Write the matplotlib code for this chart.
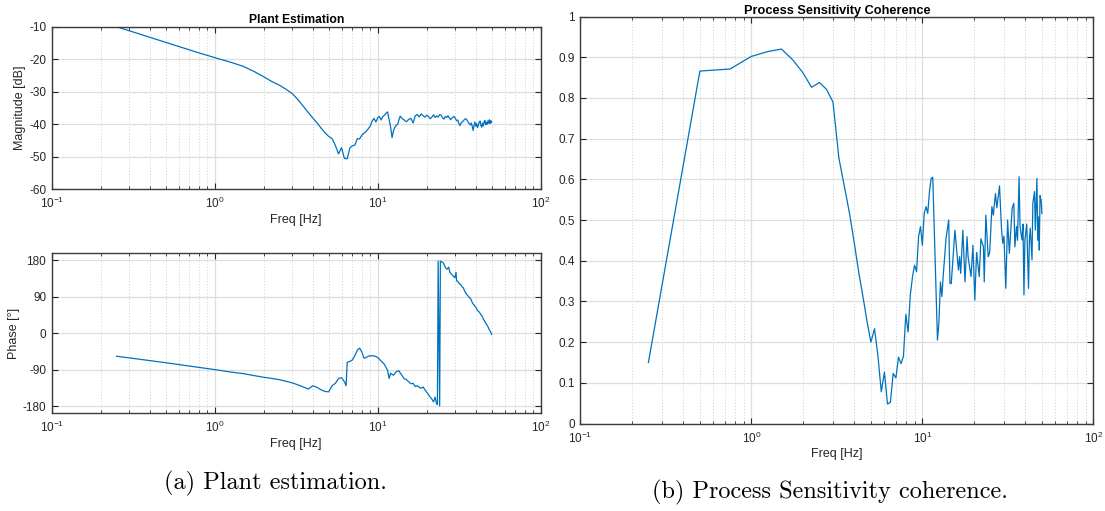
import numpy as np
import matplotlib.pyplot as plt

plt.rcParams['font.family'] = ['Liberation Sans', 'DejaVu Sans']

# ---- data ----
mag_freq = [0.25, 0.5, 0.75, 1.0, 1.25, 1.5, 1.75, 2.0, 2.25, 2.5, 2.75, 3.0,
            3.25, 3.5, 3.75, 4.0, 4.25, 4.5, 4.75, 5.0, 5.25, 5.5, 5.75, 6.0,
            6.25, 6.5, 6.75, 7.0, 7.25, 7.5, 7.75, 8.0, 8.25, 8.5, 8.75, 9.0,
            9.25, 9.5, 9.75, 10.0, 10.25, 10.5, 10.75, 11.0, 11.25, 11.5, 11.75,
            12.0, 12.25, 12.5, 12.75, 13.0, 13.25, 13.5, 13.75, 14.0, 14.25,
            14.5, 14.75, 15.0, 15.5, 16.0, 16.5, 17.0, 17.5, 18.0, 18.5, 19.0,
            19.5, 20.0, 20.5, 21.0, 21.5, 22.0, 22.5, 23.0, 23.5, 24.0, 24.5,
            25.0, 25.5, 26.0, 26.5, 27.0, 27.5, 28.0, 28.5, 29.0, 29.5, 30.0,
            30.5, 31.0, 31.5, 32.0, 32.5, 33.0, 33.5, 34.0, 34.5, 35.0, 35.5,
            36.0, 36.5, 37.0, 37.5, 38.0, 38.5, 39.0, 39.5, 40.0, 40.5, 41.0,
            41.5, 42.0, 42.5, 43.0, 43.5, 44.0, 44.5, 45.0, 45.5, 46.0, 46.5,
            47.0, 47.5, 48.0, 48.5, 49.0, 49.5, 50.0]
mag_db = [-10.0, -14.8, -17.6, -19.5, -20.9, -22.2, -23.8, -25.4, -26.9, -28.0,
          -29.3, -30.6, -32.5, -34.5, -36.4, -38.1, -39.6, -41.2, -42.6, -43.7,
          -44.4, -46.5, -49.1, -47.2, -50.5, -50.6, -47.3, -46.6, -46.4, -44.4,
          -44.5, -43.3, -42.7, -42.2, -41.4, -40.5, -39.0, -38.2, -39.3, -38.0,
          -37.6, -38.7, -37.6, -37.2, -36.6, -36.2, -38.5, -40.8, -44.1, -42.0,
          -40.9, -40.3, -40.0, -38.6, -37.5, -38.0, -38.4, -38.6, -39.0, -39.2,
          -38.5, -38.2, -39.6, -37.4, -37.0, -37.7, -36.8, -37.4, -37.8, -37.2,
          -37.6, -38.3, -37.8, -37.1, -37.9, -37.4, -37.8, -37.0, -37.2, -38.0,
          -38.4, -37.6, -37.9, -37.4, -38.0, -38.6, -38.1, -37.8, -37.6, -38.3,
          -38.9, -38.7, -39.8, -40.4, -39.6, -39.3, -39.0, -38.6, -38.3, -38.4,
          -38.9, -39.5, -39.8, -40.2, -39.6, -40.5, -41.9, -40.4, -39.3, -40.6,
          -39.8, -41.0, -40.2, -39.3, -39.0, -40.4, -40.9, -39.6, -40.5, -39.2,
          -38.8, -40.1, -39.4, -40.0, -38.9, -39.7, -38.6, -39.8, -38.9, -39.4]

ph_freq = [0.25, 0.5, 0.75, 1.0, 1.25, 1.5, 1.75, 2.0, 2.25, 2.5, 2.75, 3.0,
           3.25, 3.5, 3.75, 4.0, 4.25, 4.5, 4.75, 5.0, 5.25, 5.5, 5.75, 6.0,
           6.25, 6.4, 6.5, 6.75, 7.0, 7.25, 7.5, 7.75, 8.0, 8.25, 8.5, 8.75,
           9.0, 9.5, 10.0, 10.5, 11.0, 11.5, 11.75, 12.0, 12.5, 13.0, 13.5,
           14.0, 14.5, 15.0, 15.5, 16.0, 16.5, 17.0, 17.5, 18.0, 18.5, 19.0,
           19.5, 20.0, 20.5, 21.0, 21.5, 22.0, 22.5, 23.0, 23.25, 23.5, 24.0,
           24.25, 24.75, 25.25, 25.75, 26.25, 26.75, 27.25, 27.75, 28.25,
           28.75, 29.25, 29.75, 30.25, 30.5, 31.0, 31.5, 32.0, 32.5, 33.0,
           33.5, 34.0, 34.5, 35.0, 35.5, 36.0, 36.5, 37.0, 37.5, 38.0, 38.5,
           39.0, 39.5, 40.0, 40.5, 41.0, 41.5, 42.0, 42.5, 43.0, 43.5, 44.0,
           44.5, 45.0, 45.5, 46.0, 46.5, 47.0, 47.5, 48.0, 48.5, 49.0, 49.5,
           50.0]
ph_deg = [-57, -73, -83, -90, -96, -100, -105, -109, -112, -115, -119, -123,
          -128, -133, -138, -130, -134, -140, -144, -145, -130, -124, -112,
          -110, -120, -130, -72, -70, -66, -55, -42, -37, -47, -62, -60, -57,
          -56, -56, -60, -69, -77, -92, -112, -99, -104, -95, -93, -103, -112,
          -115, -120, -125, -124, -132, -130, -134, -136, -133, -140, -146,
          -152, -158, -163, -170, -158, -175, -176, 178, -180, 178, 176, 174,
          166, 160, 158, 163, 150, 147, 143, 140, 137, 150, 129, 128, 123, 121,
          118, 114, 112, 106, 101, 97, 94, 91, 88, 86, 82, 76, 72, 70, 66, 64,
          61, 56, 54, 52, 49, 46, 43, 40, 34, 32, 28, 25, 22, 19, 16, 11, 8, 5,
          2, -3]

coh_freq = [0.25, 0.5, 0.75, 1.0, 1.25, 1.5, 1.75, 2.0, 2.25, 2.5, 2.75, 3.0,
            3.25, 3.5, 3.75, 4.0, 4.25, 4.5, 4.75, 5.0, 5.25, 5.5, 5.75, 6.0,
            6.25, 6.5, 6.75, 7.0, 7.25, 7.5, 7.75, 8.0, 8.25, 8.5, 8.75, 9.0,
            9.25, 9.5, 9.75, 10.0, 10.25, 10.5, 10.75, 11.0, 11.25, 11.5,
            12.25, 12.5, 12.75, 13.0, 13.25, 13.75, 14.25, 14.5, 14.75, 15.5,
            16.25, 16.5, 16.75, 17.25, 17.75, 18.25, 18.5, 19.0, 19.25, 19.75,
            20.25, 20.75, 21.0, 21.5, 22.0, 22.75, 23.0, 23.5, 24.25, 24.75,
            25.5, 26.0, 26.75, 27.25, 28.25, 29.0, 29.5, 30.0, 30.75, 31.5,
            32.25, 33.5, 34.25, 34.75, 35.5, 36.0, 36.75, 37.25, 38.25, 38.75,
            39.25, 39.75, 40.75, 41.75, 42.25, 42.75, 43.75, 44.25, 45.25,
            45.75, 46.75, 47.25, 48.0, 48.25, 48.75, 49.5, 50.0]
coh = [0.15, 0.866, 0.871, 0.902, 0.914, 0.92, 0.893, 0.862, 0.826, 0.838,
       0.821, 0.79, 0.652, 0.582, 0.516, 0.443, 0.37, 0.31, 0.25, 0.2, 0.233,
       0.165, 0.078, 0.126, 0.048, 0.052, 0.123, 0.112, 0.163, 0.147, 0.165,
       0.268, 0.225, 0.316, 0.36, 0.389, 0.373, 0.459, 0.484, 0.438, 0.516,
       0.533, 0.516, 0.57, 0.602, 0.605, 0.205, 0.25, 0.348, 0.312, 0.365,
       0.455, 0.5, 0.344, 0.344, 0.475, 0.377, 0.41, 0.369, 0.475, 0.348,
       0.459, 0.41, 0.377, 0.361, 0.438, 0.303, 0.42, 0.4, 0.361, 0.454,
       0.434, 0.348, 0.512, 0.41, 0.42, 0.533, 0.512, 0.565, 0.53, 0.584,
       0.48, 0.443, 0.46, 0.332, 0.5, 0.418, 0.529, 0.541, 0.434, 0.484,
       0.45, 0.606, 0.484, 0.451, 0.49, 0.316, 0.45, 0.49, 0.332, 0.45, 0.48,
       0.402, 0.541, 0.57, 0.475, 0.602, 0.45, 0.508, 0.426, 0.56, 0.548,
       0.516]

blue = '#0072BD'
dark = '#262626'


def style(ax):
    ax.set_xscale('log')
    ax.set_xlim(0.1, 100)
    ax.grid(True, which='major', color='#dedede', lw=0.9)
    ax.grid(True, which='minor', color='#cfcfcf', lw=0.7, ls=(0, (1, 2)))
    ax.set_axisbelow(True)
    ax.tick_params(which='both', direction='in', top=True, right=True,
                   colors=dark, labelsize=8.5)
    ax.tick_params(axis='x', pad=5)
    ax.tick_params(axis='y', pad=4)
    ax.tick_params(which='major', length=4, width=0.8)
    ax.tick_params(which='minor', length=2, width=0.6)
    for s in ax.spines.values():
        s.set_color('#3a3a3a')
        s.set_linewidth(1.0)


fig = plt.figure(figsize=(11.05, 5.11), dpi=100)

# Plant estimation - magnitude
ax1 = fig.add_axes([0.0468, 0.6295, 0.4425, 0.3182])
ax1.plot(mag_freq, mag_db, color=blue, lw=0.9)
style(ax1)
ax1.set_ylim(-60, -10)
ax1.set_yticks([-60, -50, -40, -30, -20, -10])
ax1.set_yticklabels(['-60', '-50', '-40', '-30', '-20', '-10'])
ax1.set_title('Plant Estimation', fontsize=8.7, fontweight='bold', pad=3)
ax1.set_xlabel('Freq [Hz]', fontsize=9, color=dark, labelpad=2)
ax1.set_ylabel('Magnitude [dB]', fontsize=9, color=dark, labelpad=2)

# Plant estimation - phase
ax2 = fig.add_axes([0.0468, 0.1912, 0.4425, 0.3137])
ax2.plot(ph_freq, ph_deg, color=blue, lw=0.9)
style(ax2)
ax2.set_ylim(-198, 198)
ax2.set_yticks([-180, -90, 0, 90, 180])
ax2.set_yticklabels(['-180', '-90', '0', '90', '180'])
ax2.set_xlabel('Freq [Hz]', fontsize=9, color=dark, labelpad=2)
ax2.set_ylabel('Phase [°]', fontsize=9, color=dark, labelpad=2)

# Coherence
ax3 = fig.add_axes([0.5252, 0.1712, 0.4643, 0.7965])
ax3.plot(coh_freq, coh, color=blue, lw=0.9)
style(ax3)
ax3.set_ylim(0, 1)
ax3.set_yticks(np.arange(0, 11) / 10)
ax3.set_yticklabels(['0', '0.1', '0.2', '0.3', '0.4', '0.5', '0.6', '0.7',
                     '0.8', '0.9', '1'])
ax3.set_title('Process Sensitivity Coherence', fontsize=9.2, fontweight='bold', pad=2)
ax3.set_xlabel('Freq [Hz]', fontsize=9, color=dark, labelpad=2)

# captions
fig.text(275 / 1105, 1 - 483 / 511, '(a) Plant estimation.', family='cmr10',
         fontsize=17.5, ha='center', va='center')
fig.text(830 / 1105, 1 - 492 / 511, '(b) Process Sensitivity coherence.',
         family='cmr10', fontsize=17.5, ha='center', va='center')

fig.savefig('out.png', dpi=100)
